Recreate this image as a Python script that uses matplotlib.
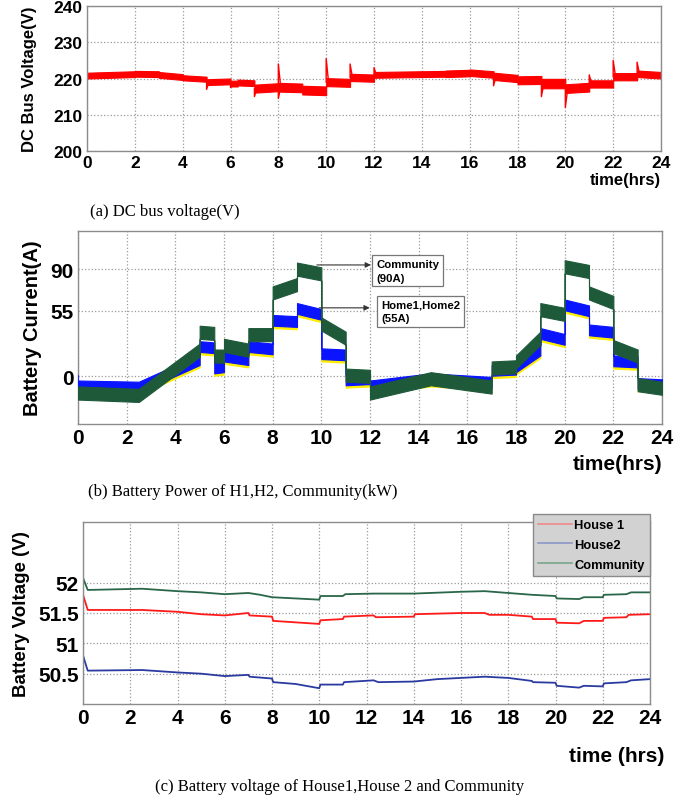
import numpy as np
import matplotlib
matplotlib.use('Agg')
import matplotlib.pyplot as plt
from matplotlib import font_manager as fm

# narrow bold sans for the tick labels if we have it
try:
    fm.findfont('Liberation Sans Narrow', fallback_to_default=False)
    narrow = 'Liberation Sans Narrow'
except Exception:
    narrow = 'Liberation Sans'
sans = 'Liberation Sans'
serif = 'Liberation Serif'

hours = list(range(0, 25, 2))

# (a) DC bus voltage: band segments (start, end, centre at start, centre at end, half width)
dc_t0 = [0, 2, 3, 4, 5, 6, 6.3, 7, 8, 9, 10, 11, 12, 15, 16, 17, 18, 19, 20, 21, 22, 23]
dc_t1 = [2, 3, 4, 5, 6, 6.3, 7, 8, 9, 10, 11, 12, 15, 16, 17, 18, 19, 20, 21, 22, 23, 24]
dc_v0 = [220.8, 221.3, 221.0, 220.2, 219.0, 218.6, 218.9, 217.2, 217.6, 216.8, 219.0, 220.3,
         221.0, 221.3, 221.6, 220.6, 219.5, 218.6, 217.2, 218.5, 220.5, 221.3]
dc_v1 = [221.2, 221.2, 220.4, 219.8, 219.2, 218.6, 218.7, 217.6, 217.4, 216.6, 218.8, 220.1,
         221.3, 221.5, 221.1, 220.0, 219.6, 218.6, 217.6, 218.5, 220.5, 220.9]
dc_hw = [0.8, 0.8, 0.8, 0.7, 0.8, 0.8, 0.8, 1.1, 1.2, 1.2, 1.1, 1.0,
         0.8, 0.9, 0.9, 1.0, 1.1, 1.3, 1.2, 1.0, 1.0, 0.9]
# switching transients (time, peak value)
dc_spike_t = [0, 0, 5, 6, 7, 8, 8, 10, 11, 12, 17, 19, 20, 21, 22, 23]
dc_spike_v = [232, 200, 217, 217.5, 215, 224, 214.5, 225.5, 224, 223, 218, 215, 212, 221, 225, 224.5]

# (b) battery current bands
bc_t0 = [0, 2.5, 5, 5.6, 6, 7, 8, 9, 10, 11, 12, 14.5, 17, 18, 19, 20, 21, 22, 23]
bc_t1 = [2.5, 5, 5.6, 6, 7, 8, 9, 10, 11, 12, 14.5, 17, 18, 19, 20, 21, 22, 23, 24]
home_v0 = [-8, -9, 25, 7, 17, 25, 47, 57, 19, -3, -8, -2, 5, 8, 36, 60, 39, 13, -6]
home_v1 = [-9, 14, 24, 8, 14, 23, 46, 52, 18, -2, -2, -5, 6, 22, 31, 55, 37, 12, -7]
comm_v0 = [-14, -16, 37, 17, 26, 35, 70, 90, 44, 1, -14, -2, 7, 12, 56, 92, 70, 25, -7]
comm_v1 = [-16, 22, 36, 17, 22, 35, 77, 86, 32, 0, -2, -9, 8, 32, 52, 88, 62, 17, -10]
bc_ticks = [0, 55, 90]

# (c) battery voltages
t_h1 = [0, 0, 0.2, 2.5, 4, 5, 6, 7, 7.05, 8, 8.05, 10, 10.05, 11, 11.05, 12.3, 12.4, 14, 14.05, 16,
        17, 17.2, 18, 19, 19.05, 20, 20.05, 21, 21.2, 22, 22.05, 23, 23.1, 24]
v_h1 = [51.25, 51.8, 51.55, 51.55, 51.52, 51.48, 51.46, 51.5, 51.46, 51.44, 51.37, 51.32, 51.38, 51.4,
        51.44, 51.46, 51.43, 51.44, 51.48, 51.5, 51.5, 51.47, 51.47, 51.44, 51.4, 51.4, 51.34, 51.33,
        51.37, 51.37, 51.42, 51.43, 51.47, 51.48]
t_h2 = [0, 0, 0.2, 2.5, 4, 5, 6, 7, 7.05, 8, 8.05, 9, 10, 10.05, 11, 11.05, 12.3, 12.5, 14, 15,
        17, 18, 19, 19.05, 20, 20.05, 21, 21.2, 22, 22.05, 23, 23.2, 24]
v_h2 = [50.0, 50.8, 50.55, 50.56, 50.52, 50.5, 50.46, 50.48, 50.45, 50.42, 50.36, 50.33, 50.26, 50.32,
        50.32, 50.36, 50.39, 50.36, 50.37, 50.41, 50.45, 50.43, 50.38, 50.36, 50.35, 50.3, 50.27, 50.3,
        50.29, 50.34, 50.36, 50.39, 50.41]
t_com = [0, 0, 0.2, 2.5, 4, 5, 6, 7, 7.5, 8, 9, 10, 10.05, 11, 11.1, 12.3, 14, 16, 17, 18,
         19, 20, 20.05, 21, 21.2, 22, 22.05, 23, 23.2, 24]
v_com = [51.5, 52.08, 51.88, 51.9, 51.86, 51.84, 51.81, 51.83, 51.8, 51.76, 51.74, 51.72, 51.78, 51.78,
         51.81, 51.82, 51.82, 51.85, 51.86, 51.83, 51.8, 51.78, 51.74, 51.73, 51.76, 51.76, 51.8, 51.81,
         51.84, 51.84]
bv_ticks = [50.5, 51, 51.5, 52]


def style_axes(ax, size, font):
    ax.set_xlim(0, 24)
    ax.set_xticks(hours)
    ax.grid(True, color='#9a9a9a', linestyle=':', linewidth=0.9)
    ax.tick_params(length=0, pad=3)
    for s in ax.spines.values():
        s.set_color('#8c8c8c')
        s.set_linewidth(1.0)
    for lab in ax.get_xticklabels() + ax.get_yticklabels():
        lab.set_fontfamily(font)
        lab.set_fontweight('bold')
        lab.set_fontsize(size)


def bands(ax, t0, t1, v0, v1, hw, color, z=2, shift=0.0):
    # one continuous polygon, steps between segments become vertical edges
    x, lo, hi = [], [], []
    for a, b, c0, c1, h in zip(t0, t1, v0, v1, hw):
        x += [a, b]
        lo += [c0 + shift - h, c1 + shift - h]
        hi += [c0 + shift + h, c1 + shift + h]
    ax.fill_between(x, lo, hi, color=color, linewidth=0.8, edgecolor=color, zorder=z)


fig = plt.figure(figsize=(6.93, 8.03), dpi=100)
W, H = 693.0, 803.0


def place(l, r, t, b):
    return fig.add_axes([l / W, 1 - b / H, (r - l) / W, (b - t) / H])


# ---- (a)
ax1 = place(87, 661, 7, 152)
bands(ax1, dc_t0, dc_t1, dc_v0, dc_v1, dc_hw, '#ff0000')
for t, pk in zip(dc_spike_t, dc_spike_v):
    i = max(j for j in range(len(dc_t0)) if dc_t0[j] <= t)
    if t == 0:
        ax1.plot([t, t], [dc_v0[i], pk], color='#ff0000', lw=1.2, zorder=2)
    else:
        ax1.plot([t, t, t + 0.1], [dc_v0[i], pk, dc_v0[i]], color='#ff0000', lw=1.0, zorder=2)
ax1.set_ylim(200, 240)
ax1.set_yticks([200, 210, 220, 230, 240])
style_axes(ax1, 12.5, sans)
ax1.set_ylabel('DC Bus Voltage(V)', fontfamily=sans, fontweight='bold', fontsize=12, labelpad=12)
fig.text(661 / W, 1 - 180 / H, 'time(hrs)', ha='right', va='center', fontfamily=sans,
         fontweight='bold', fontsize=12)
fig.text(90 / W, 1 - 212 / H, '(a) DC bus voltage(V)', ha='left', va='center',
         fontfamily=serif, fontsize=12)

# ---- (b)
ax2 = place(78, 662, 232, 425)
hw_home = [4.5] * len(bc_t0)
hw_comm = [5.5] * len(bc_t0)
bands(ax2, bc_t0, bc_t1, home_v0, home_v1, hw_home, '#ffee00', z=2, shift=-2.0)
bands(ax2, bc_t0, bc_t1, home_v0, home_v1, hw_home, '#0a14ff', z=3)
bands(ax2, bc_t0, bc_t1, comm_v0, comm_v1, hw_comm, '#1e5a3a', z=4)
ax2.plot([0, 0], [0, home_v0[0]], color='#0a14ff', lw=1.2, zorder=3)
ax2.set_ylim(-40, 122)
ax2.set_yticks(bc_ticks)
style_axes(ax2, 15, narrow)
ax2.set_ylabel('Battery Current(A)', fontfamily=sans, fontweight='bold', fontsize=14.5, labelpad=6)
ax2.annotate('', xy=(12.15, 93.5), xytext=(9.7, 93.5),
             arrowprops=dict(arrowstyle='-|>', color='#333333', lw=0.8, mutation_scale=8), zorder=6)
ax2.annotate('', xy=(12.1, 57.5), xytext=(9.8, 57.5),
             arrowprops=dict(arrowstyle='-|>', color='#333333', lw=0.8, mutation_scale=8), zorder=6)
ax2.text(12.25, 88.5, 'Community\n(90A)', ha='left', va='center', fontfamily=narrow, fontweight='bold',
         fontsize=8.2, linespacing=1.4, zorder=7,
         bbox=dict(boxstyle='square,pad=0.35', fc='white', ec='#777777', lw=0.9))
ax2.text(12.45, 54.5, 'Home1,Home2\n(55A)', ha='left', va='center', fontfamily=narrow, fontweight='bold',
         fontsize=8.2, linespacing=1.4, zorder=7,
         bbox=dict(boxstyle='square,pad=0.35', fc='white', ec='#777777', lw=0.9))
fig.text(662 / W, 1 - 465 / H, 'time(hrs)', ha='right', va='center', fontfamily=narrow,
         fontweight='bold', fontsize=15)
fig.text(88 / W, 1 - 492 / H, '(b) Battery Power of H1,H2, Community(kW)', ha='left', va='center',
         fontfamily=serif, fontsize=12)

# ---- (c)
ax3 = place(83, 650, 523, 705)
l1, = ax3.plot(t_h1, v_h1, color='#ff1a1a', lw=1.3)
l2, = ax3.plot(t_h2, v_h2, color='#2a3aa0', lw=1.3)
l3, = ax3.plot(t_com, v_com, color='#2a6648', lw=1.3)
ax3.set_ylim(50, 53)
ax3.set_yticks(bv_ticks)
ax3.set_yticklabels(['50.5', '51', '51.5', '52'])
style_axes(ax3, 15, narrow)
ax3.set_ylabel('Battery Voltage (V)', fontfamily=sans, fontweight='bold', fontsize=13.5, labelpad=6)
h1, = ax3.plot([], [], color='#f08a8a', lw=1.2)
h2, = ax3.plot([], [], color='#8a96c8', lw=1.2)
h3, = ax3.plot([], [], color='#7aa68c', lw=1.2)
leg = ax3.legend([h1, h2, h3], ['House 1', 'House2', 'Community'], loc='upper right',
                 bbox_to_anchor=(1.0, 1.044), borderaxespad=0, fancybox=False, framealpha=1,
                 facecolor='#d2d2d2', edgecolor='#8a8a8a',
                 prop=dict(family=narrow, weight='bold', size=9.3),
                 handlelength=2.6, handletextpad=0.2, labelspacing=0.6, borderpad=0.4)
leg.get_frame().set_linewidth(1.0)
leg.set_zorder(10)
fig.text(664 / W, 1 - 757 / H, 'time (hrs)', ha='right', va='center', fontfamily=narrow,
         fontweight='bold', fontsize=15)
fig.text(340 / W, 1 - 787 / H, '(c) Battery voltage of House1,House 2 and Community', ha='center',
         va='center', fontfamily=serif, fontsize=12)

fig.savefig('out.png', dpi=100)
